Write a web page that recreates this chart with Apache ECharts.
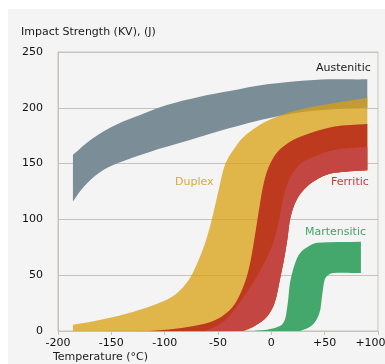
<!DOCTYPE html>
<html>
<head>
<meta charset="utf-8">
<script src="https://cdn.jsdelivr.net/npm/echarts@6/dist/echarts.min.js"></script>
<style>
  html, body { margin: 0; padding: 0; background: #fff; }
  #bg { position: absolute; left: 8px; top: 9px; width: 377px; height: 355px; background: #f4f4f4; }
  #chart { position: absolute; left: 0; top: 0; width: 385px; height: 364px; }
</style>
</head>
<body>
<div id="bg"></div>
<div id="chart"></div>
<script>
// temperature axis (°C) and impact strength axis (J)
const xMin = -200, xMax = 100, xStep = 50;
const yMin = 0, yMax = 250, yStep = 50;

// each band = upper edge and lower edge, [temperature, energy]
const austeniticUpper = [[-186,158],[-167,173],[-145,185],[-123,193.5],[-98,202.5],[-67,210],[-39,215],[-4,221],[40,225],[90,225.5]];
const austeniticLower = [[-186,116],[-176,129],[-161,142],[-145,150],[-114,160.5],[-82,169.5],[-51,178.5],[-10,189],[20,195],[55,198.5],[90,200]];

const duplexUpper = [[-186,5.5],[-160,10],[-130,17],[-98,28],[-86,36],[-76,48],[-68,64],[-61,82],[-55,103],[-49,128],[-43,150],[-35,163],[-27,173],[-12,184],[5,192],[25,198],[58,204],[90,209]];

const ferriticUpper = [[-114,0],[-90,2],[-67,5.5],[-50,11],[-36,22],[-27,38],[-21,56],[-16,82],[-11,112],[-7,133],[-2,148],[5,159.5],[15,168],[27,174],[58,183],[90,185.5]];
const ferriticMid = [[-62,0],[-45,8],[-30,25],[-16,45],[-6,62],[1,77],[5,90],[8,103],[11,118],[15,132],[21,143],[29,151],[42,157],[58,162],[90,165]];
const ferriticLower = [[-27,0],[-15,5],[-4,13],[3,25],[8,46],[12,65],[15,82],[18,102],[24,118],[33,129],[45,137],[58,141.5],[90,144]];

const martensiticUpper = [[-17,0],[0,2],[11,7],[15,22],[17.5,43],[22,60],[27,70],[35,76],[43,79],[84,80]];
const martensiticLower = [[27,0],[38,5],[45,16],[47.5,31],[50,46],[53,50],[58,52],[84,52]];

// duplex runs down to the axis on the left; the red bands cover the rest of its lower side
const duplexLower = [[-186,0]].concat(ferriticLower);

function bandSeries(name, upper, lower, color) {
  // ends doubled so the smoothing keeps the band ends square
  const up = [upper[0]].concat(upper, [upper[upper.length - 1]]);
  const lr = lower.slice().reverse();
  const lo = [lr[0]].concat(lr, [lr[lr.length - 1]]);
  const pts = up.concat(lo);
  return {
    name: name,
    type: 'custom',
    data: pts,
    encode: { x: 0, y: 1 },
    renderItem: function (params, api) {
      if (params.dataIndex !== 0) return null;
      return {
        type: 'polygon',
        shape: { points: pts.map(function (p) { return api.coord(p); }), smooth: 0.35 },
        style: { fill: color }
      };
    }
  };
}

const font = 'DejaVu Sans';
const chart = echarts.init(document.getElementById('chart'));
chart.setOption({
  animation: false,
  grid: { left: 58, right: 7, top: 52, bottom: 33, outerBoundsMode: 'none', show: true, borderColor: '#c9c2bb', borderWidth: 1 },
  xAxis: {
    type: 'value', min: xMin, max: xMax, interval: xStep,
    axisLine: { onZero: false, lineStyle: { color: '#c9c2bb' } },
    axisTick: { show: true, length: 4, lineStyle: { color: '#c9c2bb' } },
    splitLine: { show: false },
    axisLabel: {
      color: '#111', fontFamily: font, fontSize: 11, margin: 7,
      formatter: function (v) {
        if (v === xMax) return '{last|+' + v + '}';   // kept inside the frame
        return v > 0 ? '+' + v : String(v);
      },
      rich: { last: { color: '#111', fontFamily: font, fontSize: 11, padding: [0, 15, 0, 0] } }
    }
  },
  yAxis: {
    type: 'value', min: yMin, max: yMax, interval: yStep,
    axisLine: { show: true, onZero: false, lineStyle: { color: '#c9c2bb' } },
    axisTick: { show: false },
    splitLine: { lineStyle: { color: '#c9c2bb' } },
    axisLabel: { color: '#111', fontFamily: font, fontSize: 11, margin: 15 }
  },
  series: [
    bandSeries('Austenitic', austeniticUpper, austeniticLower, '#7b8d97'),
    bandSeries('Duplex', duplexUpper, duplexLower, 'rgba(217,160,20,0.76)'),
    bandSeries('Ferritic', ferriticUpper, ferriticLower, '#bd3a1f'),
    bandSeries('Ferritic', ferriticMid, ferriticLower, '#c44643'),
    bandSeries('Martensitic', martensiticUpper, martensiticLower, '#44a86c')
  ],
  graphic: [
    { type: 'text', left: 21, top: 27, style: { text: 'Impact Strength (KV), (J)', fill: '#1a1a1a', font: '11px ' + font } },
    { type: 'text', left: 53, top: 352, style: { text: 'Temperature (°C)', fill: '#1a1a1a', font: '11px ' + font } },
    { type: 'text', left: 316, top: 63, style: { text: 'Austenitic', fill: '#1a1a1a', font: '11px ' + font } },
    { type: 'text', left: 175, top: 177, style: { text: 'Duplex', fill: '#d9a940', font: '11px ' + font } },
    { type: 'text', left: 331, top: 177, style: { text: 'Ferritic', fill: '#c2402a', font: '11px ' + font } },
    { type: 'text', left: 305, top: 227, style: { text: 'Martensitic', fill: '#3fa56a', font: '11px ' + font } }
  ]
});
</script>
</body>
</html>
